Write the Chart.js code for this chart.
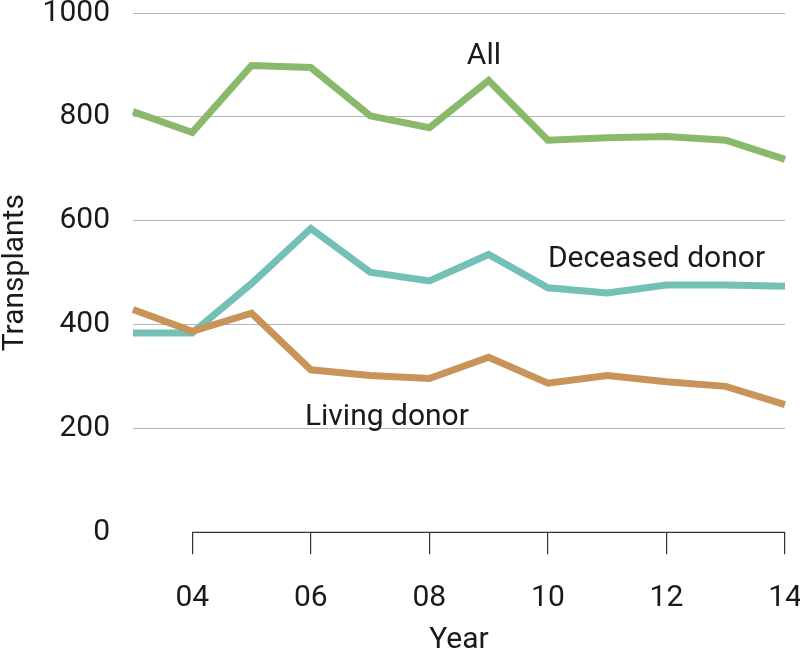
<!DOCTYPE html>
<html lang="en">
<head>
  <meta charset="UTF-8" />
  <title>Transplants by Year</title>
  <script src="https://cdn.jsdelivr.net/npm/chart.js"></script>
  <style>
    html, body { margin: 0; padding: 0; background: #fff; }
    #wrap { width: 800px; height: 655px; }
  </style>
</head>
<body>
  <div id="wrap"><canvas id="chart" width="800" height="655"></canvas></div>
  <script>
    const years = ['03', '04', '05', '06', '07', '08', '09', '10', '11', '12', '13', '14'];
    const allTransplants = [810, 770, 899, 895, 802, 779, 870, 755, 760, 762, 755, 718];
    const deceasedDonor = [384, 384, 479, 585, 501, 484, 535, 471, 461, 476, 476, 474];
    const livingDonor = [429, 387, 422, 313, 302, 296, 337, 287, 302, 290, 281, 246];
    const yTicks = [0, 200, 400, 600, 800, 1000];

    // series labels placed in data units (x = year index, y = value)
    const seriesLabels = [
      { text: 'All', x: 5.92, y: 902, align: 'center' },
      { text: 'Deceased donor', x: 7.0, y: 510, align: 'left' },
      { text: 'Living donor', x: 2.9, y: 206, align: 'left' }
    ];

    const FONT = 'Roboto, "Open Sans", sans-serif';
    const TEXT = '#1a1a1a';

    const extras = {
      id: 'extras',
      afterDatasetsDraw(chart) {
        const { ctx, scales: { x, y } } = chart;
        ctx.save();
        // bottom axis line runs only from 04 to 14
        ctx.strokeStyle = '#333';
        ctx.lineWidth = 1.2;
        ctx.beginPath();
        ctx.moveTo(x.getPixelForValue(1), y.getPixelForValue(0));
        ctx.lineTo(x.getPixelForValue(years.length - 1), y.getPixelForValue(0));
        ctx.stroke();

        ctx.fillStyle = TEXT;
        ctx.font = '30px ' + FONT;
        ctx.textBaseline = 'alphabetic';
        seriesLabels.forEach(l => {
          ctx.textAlign = l.align;
          ctx.fillText(l.text, x.getPixelForValue(l.x), y.getPixelForValue(l.y));
        });
        ctx.restore();
      }
    };

    new Chart(document.getElementById('chart'), {
      type: 'line',
      data: {
        labels: years,
        datasets: [
          { label: 'Living donor', data: livingDonor, borderColor: '#c8945a' },
          { label: 'Deceased donor', data: deceasedDonor, borderColor: '#73c0b6' },
          { label: 'All', data: allTransplants, borderColor: '#8bb96c' }
        ]
      },
      options: {
        responsive: false,
        animation: false,
        layout: { padding: { top: 13, right: 15, bottom: 0, left: 0 } },
        elements: {
          line: { borderWidth: 7, tension: 0, borderJoinStyle: 'miter', fill: false },
          point: { radius: 0 }
        },
        plugins: {
          legend: { display: false },
          tooltip: { enabled: false }
        },
        scales: {
          x: {
            offset: false,
            border: { display: false },
            grid: {
              drawOnChartArea: false,
              drawTicks: true,
              tickLength: 22,
              lineWidth: 1.2,
              color: c => (c.index % 2 === 1 ? '#333' : 'rgba(0,0,0,0)')
            },
            ticks: {
              autoSkip: false,
              maxRotation: 0,
              padding: 26,
              color: TEXT,
              font: { family: FONT, size: 30 },
              callback: (v, i) => (i % 2 === 1 ? years[i] : '')
            },
            title: {
              display: true,
              text: 'Year',
              color: TEXT,
              padding: 0,
              font: { family: FONT, size: 30, lineHeight: 1 }
            },
            afterFit(s) { s.height = 122.7; s.paddingLeft = 0; s.paddingRight = 0; }
          },
          y: {
            min: 0,
            max: 1000,
            border: { display: false },
            grid: {
              drawTicks: false,
              lineWidth: 1,
              color: c => (c.tick && c.tick.value === 0 ? 'rgba(0,0,0,0)' : '#b5b5b5')
            },
            afterBuildTicks(s) { s.ticks = yTicks.map(v => ({ value: v })); },
            ticks: {
              padding: 23,
              color: TEXT,
              font: { family: FONT, size: 30 },
              callback: v => String(v)
            },
            title: {
              display: true,
              text: 'Transplants',
              color: TEXT,
              padding: 0,
              font: { family: FONT, size: 30, lineHeight: 1 }
            },
            afterFit(s) { s.width = 133; s.paddingTop = 0; s.paddingBottom = 0; }
          }
        }
      },
      plugins: [extras]
    });
  </script>
</body>
</html>
